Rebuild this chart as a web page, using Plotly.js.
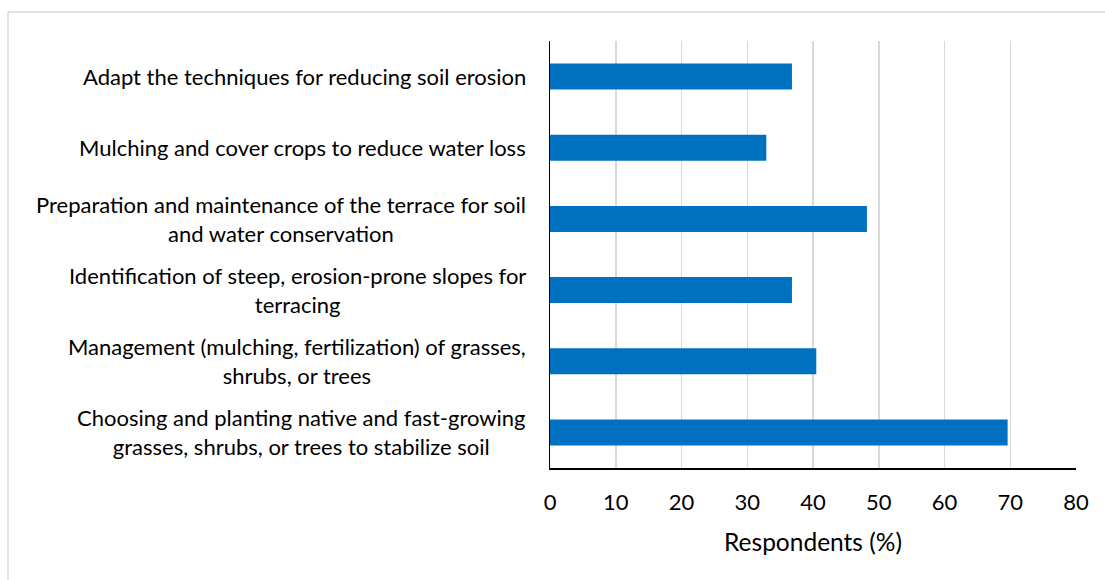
<!DOCTYPE html>
<html>
<head>
<meta charset="utf-8">
<script src="https://cdn.plot.ly/plotly-3.0.1.min.js"></script>
<style>
html,body{margin:0;padding:0;background:#fff;}
#chart{width:1105px;height:580px;}
</style>
</head>
<body>
<div id="chart"></div>
<script>
const categories = [
  "Adapt the techniques for reducing soil erosion",
  "Mulching and cover crops to reduce water loss",
  "Preparation and maintenance of the terrace for soil and water conservation",
  "Identification of steep, erosion-prone slopes for terracing",
  "Management (mulching, fertilization) of grasses, shrubs, or trees",
  "Choosing and planting native and fast-growing grasses, shrubs, or trees to stabilize soil"
];
const tickLabels = [
  "Adapt the techniques for reducing soil erosion",
  "Mulching and cover crops to reduce water loss",
  "Preparation and maintenance of the terrace for soil<br>and water conservation",
  "Identification of steep, erosion-prone slopes for<br>terracing",
  "Management (mulching, fertilization) of grasses,<br>shrubs, or trees",
  "Choosing and planting native and fast-growing<br>grasses, shrubs, or trees to stabilize soil"
];
const respondents = [36.8, 32.9, 48.2, 36.8, 40.5, 69.6];
const xTicks = [0, 10, 20, 30, 40, 50, 60, 70, 80];

const FONT = "Lato, 'Open Sans', sans-serif";
const FS = 22;

const trace = {
  type: "bar",
  orientation: "h",
  x: respondents,
  y: categories,
  marker: {color: "#0070C0"},
  hoverinfo: "x+y"
};

const annotations = categories.map((c, i) => ({
  xref: "paper", yref: "y",
  x: 0, y: c,
  xanchor: "right", yanchor: "middle",
  xshift: -22,
  align: "center",
  showarrow: false,
  text: tickLabels[i],
  font: {family: FONT, size: FS, color: "#000"}
}));

// light chart-area border (left + top)
const L = 550, R = 1076, T = 41, B = 468;
const px = v => (v - L) / (R - L);
const py = v => (B - v) / (B - T);
const shapes = [
  {type: "line", xref: "paper", yref: "paper", x0: px(8), x1: px(8), y0: py(12), y1: py(580), line: {color: "#d9d9d9", width: 1.5}},
  {type: "line", xref: "paper", yref: "paper", x0: px(8), x1: px(1105), y0: py(12), y1: py(12), line: {color: "#d9d9d9", width: 1.5}}
];

const layout = {
  width: 1105, height: 580,
  margin: {l: L, r: 1105 - R, t: T, b: 580 - B},
  paper_bgcolor: "#fff", plot_bgcolor: "#fff",
  showlegend: false,
  bargap: 0.635,
  font: {family: FONT, size: FS, color: "#000"},
  xaxis: {
    range: [0, 80],
    tickvals: xTicks,
    ticktext: xTicks.map(String),
    showgrid: true, gridcolor: "#d9d9d9", gridwidth: 1.5,
    zeroline: false,
    showline: true, linecolor: "#000", linewidth: 1.5,
    ticks: "", ticklen: 0,
    ticklabelstandoff: 14,
    tickfont: {family: FONT, size: FS, color: "#000"},
    title: {text: "Respondents (%)", font: {family: FONT, size: 24.5, color: "#000"}, standoff: 20},
    fixedrange: true
  },
  yaxis: {
    type: "category",
    autorange: "reversed",
    showticklabels: false,
    showgrid: false, zeroline: false,
    showline: true, linecolor: "#000", linewidth: 1.5,
    ticks: "",
    fixedrange: true
  },
  annotations: annotations,
  shapes: shapes
};

Plotly.newPlot("chart", [trace], layout, {displayModeBar: false, staticPlot: true});
</script>
</body>
</html>
